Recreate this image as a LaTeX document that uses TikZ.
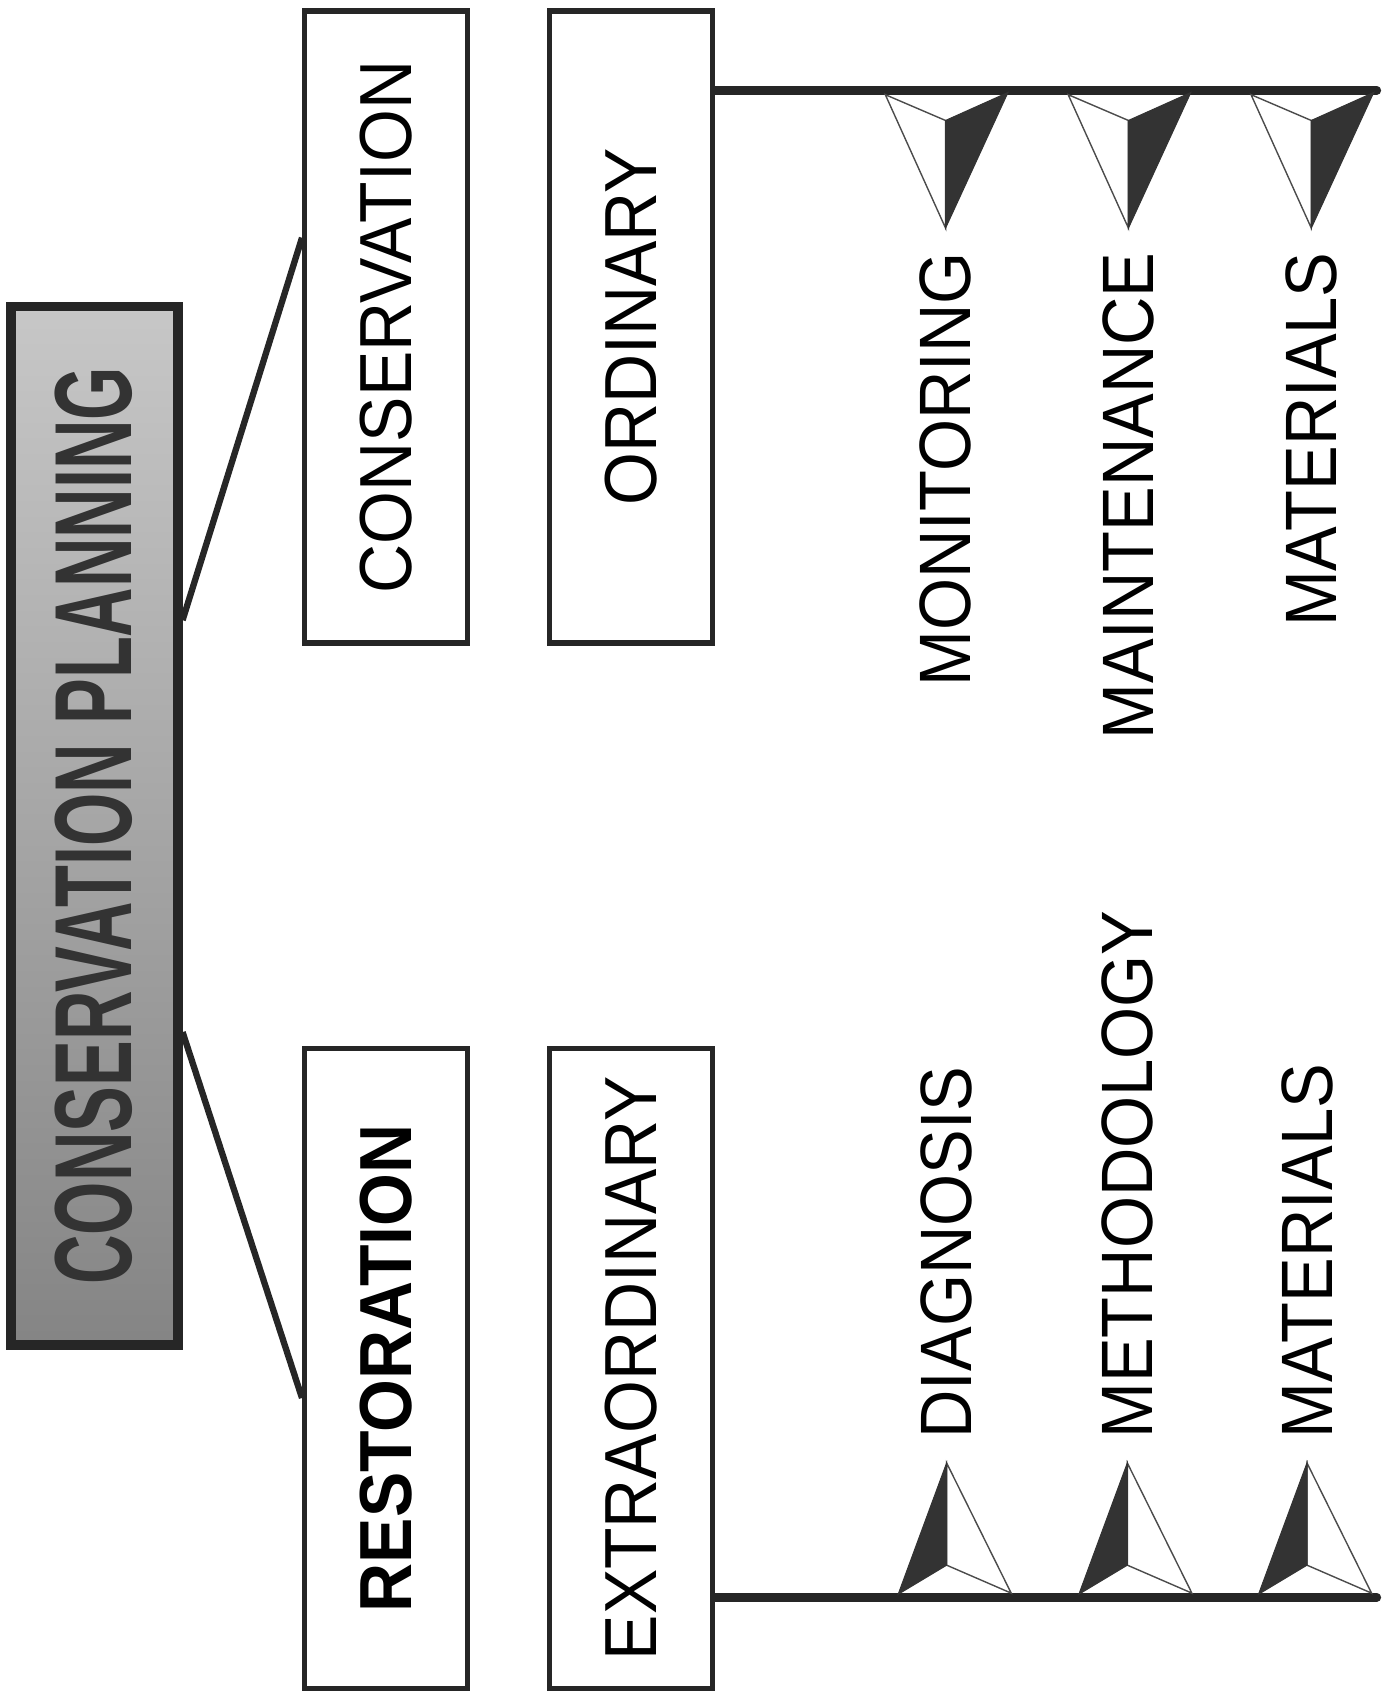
\documentclass[tikz,border=0pt]{standalone}
\usepackage{fontspec}
\setmainfont{Liberation Sans}
\newfontfamily\labfont[FakeStretch=0.92]{Liberation Sans}
\usetikzlibrary{calc}
\tikzset{
	box/.style={
		rectangle,
		draw=black!85, line width=1.5pt,
		rotate=90,
		minimum width=63.2mm,
		minimum height=16.3mm,
		inner sep=0pt,
		font=\labfont\fontsize{21}{22}\selectfont},
	title/.style={
		rectangle,
		draw=black!85, line width=2.8pt,
		rotate=90,
		top color=black!22, bottom color=black!48,
		minimum width=103.8mm,
		minimum height=16.7mm,
		inner sep=0pt,
		text=black!80,
		font=\bfseries\fontsize{19.5}{20}\selectfont},
	item/.style={rotate=90, inner sep=0pt, font=\labfont\fontsize{20.7}{22}\selectfont},
	link/.style={draw=black!85, line width=1.8pt},
	rail/.style={draw=black!85, line width=2.4pt, line cap=round},
	dark/.style={fill=black!80, draw=black!80, line width=0.3pt},
	light/.style={fill=white, draw=black!70, line width=0.4pt},
}

\begin{document}
\begin{tikzpicture}[x=0.10754mm, y=-0.10754mm]
	\useasboundingbox (0,0) rectangle (1300,1572);
	% boxes
	\node[title] (plan) at (87.5,767.5) {\scalebox{1}[1.6]{CONSERVATION PLANNING}};
	\node[box] (cons) at (359,304) {CONSERVATION};
	\node[box] (ordi) at (586.5,304) {ORDINARY};
	\node[box, minimum width=64mm, font=\labfont\bfseries\fontsize{21}{22}\selectfont] (rest) at (359,1272) {RESTORATION};
	\node[box, minimum width=64mm] (extra) at (586.5,1272) {EXTRAORDINARY};
	% links
	\draw[link] ($(plan.south west)!0.696!(plan.south east)$) -- ($(cons.north west)!0.64!(cons.north east)$);
	\draw[link] ($(plan.south west)!0.303!(plan.south east)$) -- ($(rest.north west)!0.454!(rest.north east)$);
	\coordinate (topend) at (1280,84);
	\coordinate (botend) at (1280,1485);
	\draw[rail] (ordi.south |- topend) -- (topend);
	\draw[rail] (extra.south |- botend) -- (botend);
	% branches
	\foreach \x/\name/\txt in {879/mon/MONITORING, 1049/mai/MAINTENANCE, 1219/mata/MATERIALS} {
		\filldraw[light] (\x-56,88) -- (\x,112) -- (\x,212) -- cycle;
		\filldraw[dark] (\x+58,86) -- (\x,112) -- (\x,212) -- cycle;
		\node[item, anchor=east] (\name) at (\x,234) {\txt};
	}
	\foreach \x/\name/\txt in {880/diag/DIAGNOSIS, 1048/meth/METHODOLOGY, 1215/matb/MATERIALS} {
		\filldraw[light] (\x+60,1481) -- (\x,1455) -- (\x,1360) -- cycle;
		\filldraw[dark] (\x-45,1482) -- (\x,1455) -- (\x,1360) -- cycle;
		\node[item, anchor=west] (\name) at (\x,1338) {\txt};
	}
\end{tikzpicture}
\end{document}
